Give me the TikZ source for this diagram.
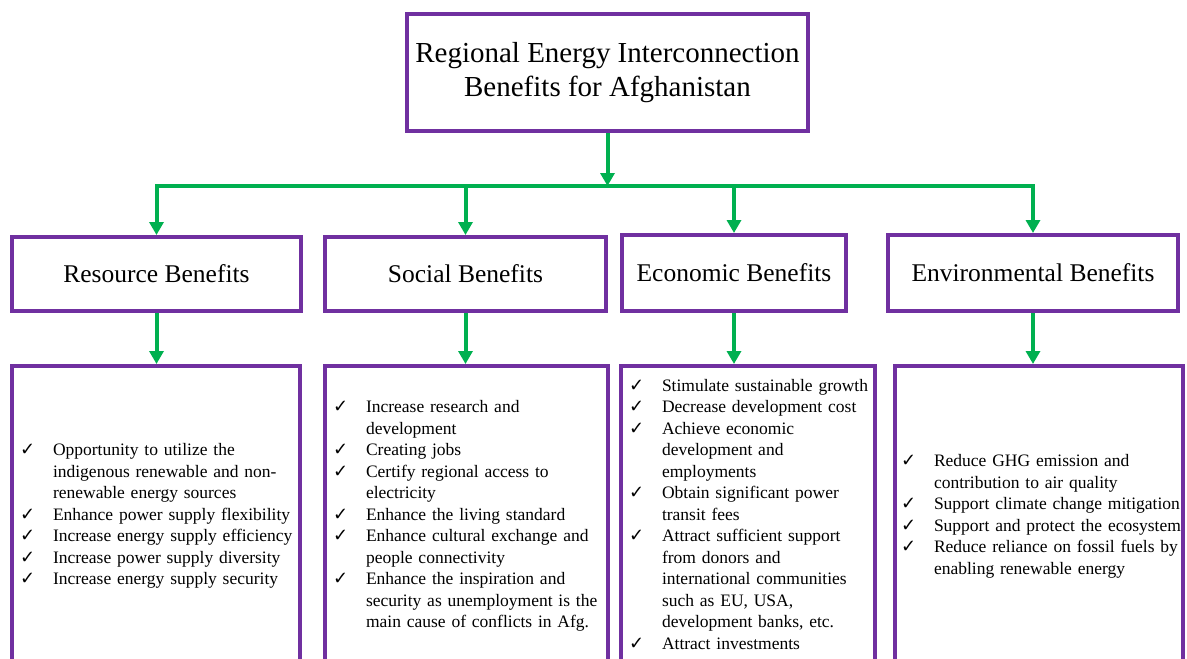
\documentclass[tikz,border=0pt]{standalone}
\usepackage{fontspec}
\setmainfont{Liberation Serif}
\newfontfamily\symfont{DejaVu Sans}
\usepackage{tikz}
\usetikzlibrary{arrows.meta}
\definecolor{boxpurple}{HTML}{7030A0}
\definecolor{linkgreen}{HTML}{00B050}
% tick mark in front of every bullet line
\newcommand{\ok}{\makebox[33pt][l]{\symfont\fontsize{18}{18}\selectfont ✓}}

\begin{document}
\begin{tikzpicture}[x=1pt,y=-1pt,
    titlebox/.style={draw=boxpurple,line width=4pt,align=center,
                     font=\fontsize{29}{34}\selectfont},
    headbox/.style={draw=boxpurple,line width=4pt,minimum height=74pt,
                    font=\fontsize{25.5}{30}\selectfont},
    listbox/.style={draw=boxpurple,line width=4pt,minimum height=300pt,
                    inner xsep=8pt,align=left,
                    font=\fontsize{17.5}{21.5}\selectfont},
    wire/.style={linkgreen,line width=4pt},
    feed/.style={wire,-{Triangle[length=13pt,width=14pt]}}]
  \useasboundingbox (0,0) rectangle (1187,659);
  \clip (0,0) rectangle (1187,659);

  % haut de l'arbre
  \node[titlebox,minimum width=401pt,minimum height=117pt] (title) at (607.5,72.5)
    {Regional Energy Interconnection\\Benefits for Afghanistan};

  % les quatre familles de benefices
  \node[headbox,minimum width=289pt] (res) at (156.5,274) {Resource Benefits};
  \node[headbox,minimum width=281pt] (soc) at (465.5,274) {Social Benefits};
  \node[headbox,minimum width=224pt,minimum height=76pt] (eco) at (734,273) {Economic Benefits};
  \node[headbox,minimum width=290pt,minimum height=76pt] (env) at (1033,273) {Environmental Benefits};

  % listes de detail
  \node[listbox,minimum width=288pt,text width=272pt] (resL) at (156,516) {%
    \begin{tabular}{@{}l@{}l@{}}
      \ok & Opportunity to utilize the\\
          & indigenous renewable and non-\\
          & renewable energy sources\\
      \ok & Enhance power supply flexibility\\
      \ok & Increase energy supply efficiency\\
      \ok & Increase power supply diversity\\
      \ok & Increase energy supply security
    \end{tabular}};
  \node[listbox,minimum width=283pt,text width=267pt] (socL) at (466.5,516) {%
    \begin{tabular}{@{}l@{}l@{}}
      \ok & Increase research and\\
          & development\\
      \ok & Creating jobs\\
      \ok & Certify regional access to\\
          & electricity\\
      \ok & Enhance the living standard\\
      \ok & Enhance cultural exchange and\\
          & people connectivity\\
      \ok & Enhance the inspiration and\\
          & security as unemployment is the\\
          & main cause of conflicts in Afg.
    \end{tabular}};
  \node[listbox,minimum width=254pt,text width=238pt] (ecoL) at (748,516) {%
    \begin{tabular}{@{}l@{}l@{}}
      \ok & Stimulate sustainable growth\\
      \ok & Decrease development cost\\
      \ok & Achieve economic\\
          & development and\\
          & employments\\
      \ok & Obtain significant power\\
          & transit fees\\
      \ok & Attract sufficient support\\
          & from donors and\\
          & international communities\\
          & such as EU, USA,\\
          & development banks, etc.\\
      \ok & Attract investments
    \end{tabular}};
  \node[listbox,minimum width=288pt,text width=276pt,inner xsep=6pt] (envL) at (1039,516) {%
    \begin{tabular}{@{}l@{}l@{}}
      \ok & Reduce GHG emission and\\
          & contribution to air quality\\
      \ok & Support climate change mitigation\\
      \ok & Support and protect the ecosystem\\
      \ok & Reduce reliance on fossil fuels by\\
          & enabling renewable energy
    \end{tabular}};

  % connecteurs verts
  \coordinate (busL) at (156.5,186);
  \coordinate (busR) at (1033,186);
  \draw[wire,line cap=rect] (busL) -- (busR);
  \draw[feed] (title.south) -- (title.south |- busL);
  \foreach \h in {res,soc,eco,env}
    \draw[feed] (\h.north |- busL) -- (\h.north);
  \foreach \h/\l in {res/resL,soc/socL,eco/ecoL,env/envL}
    \draw[feed] (\h.south) -- (\h.south |- \l.north);
\end{tikzpicture}
\end{document}
